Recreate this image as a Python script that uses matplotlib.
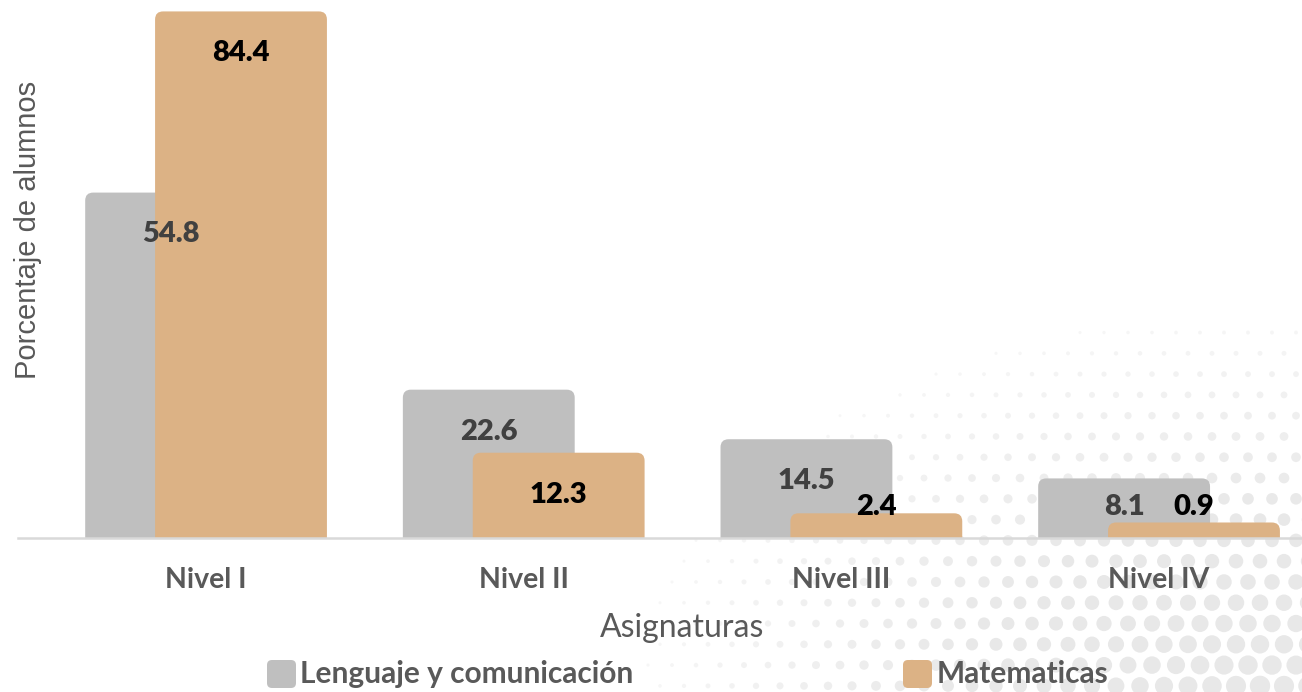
import numpy as np
import matplotlib.pyplot as plt
from matplotlib.patches import FancyBboxPatch

niveles = ['Nivel I', 'Nivel II', 'Nivel III', 'Nivel IV']
lenguaje = [54.8, 22.6, 14.5, 8.1]
matematicas = [84.4, 12.3, 2.4, 0.9]
series_names = ['Lenguaje y comunicación', 'Matematicas']

GRAY = '#bfbfbf'
TAN = '#dcb285'
TXT = '#595959'

W, H = 1302, 692
fig = plt.figure(figsize=(W / 100, H / 100), dpi=100)

# halftone dots in the lower right corner (background decoration)
bg = fig.add_axes([0, 0, 1, 1], zorder=0)
bg.set_xlim(0, W)
bg.set_ylim(H, 0)
bg.axis('off')
step = 24
gx, gy, gs, ga = [], [], [], []
for j, yy in enumerate(np.arange(0, H + step, step * 0.866)):
    off = (step / 2) * (j % 2)
    for xx in np.arange(off, W + step, step):
        d = np.hypot(xx - 1260, (yy - 700) * 1.6)
        t = 1 - d / 620
        if t > 0:
            gx.append(xx)
            gy.append(yy)
            gs.append((3 + 18 * t) ** 2 * 0.52)
            ga.append(min(1.0, 0.35 + 1.2 * t))
cols = [(0.91, 0.91, 0.91, a) for a in ga]
bg.scatter(gx, gy, s=gs, c=cols, linewidths=0)

# main axes
left, right, top, bottom = 18, 1302, 0, 538
ax = fig.add_axes([left / W, 1 - bottom / H, (right - left) / W, (bottom - top) / H], zorder=1)
ax.patch.set_alpha(0)
xmin, xmax = -0.592, 3.45
ymax = 87.9
ax.set_xlim(xmin, xmax)
ax.set_ylim(0, ymax)

px_x = (right - left) / (xmax - xmin)
px_y = (bottom - top) / ymax
pad = 10 / px_x
aspect = px_x / px_y

x = np.arange(len(niveles))
bw = 0.478
b1 = ax.bar(x - 0.11, lenguaje, bw, color=GRAY)
b2 = ax.bar(x + 0.11, matematicas, bw, color=TAN)

for cont, col, z in [(b1, GRAY, 2), (b2, TAN, 3)]:
    for r in cont:
        r.set_visible(False)
        p = FancyBboxPatch((r.get_x(), r.get_y()), r.get_width(), r.get_height(),
                           boxstyle='round,pad=%f,rounding_size=%f' % (pad, 8 / px_x),
                           mutation_aspect=aspect, facecolor=col, edgecolor='none', zorder=z)
        ax.add_patch(p)

for xi, v in zip(x - 0.11, lenguaje):
    ax.text(xi, max(v - 5.2, 5.0), '%.1f' % v, ha='center', va='center',
            fontsize=21, fontweight='heavy', family='Lato', color='#404040', zorder=5)
for xi, v in zip(x + 0.11, matematicas):
    ax.text(xi, max(v - 5.2, 5.0), '%.1f' % v, ha='center', va='center',
            fontsize=21, fontweight='heavy', family='Lato', color='black', zorder=5)

for s in ['top', 'right', 'left']:
    ax.spines[s].set_visible(False)
ax.spines['bottom'].set_color('#d9d9d9')
ax.spines['bottom'].set_linewidth(1.8)
ax.spines['bottom'].set_zorder(6)
ax.set_yticks([])
ax.set_xticks(x)
ax.set_xticklabels(niveles, fontsize=20.5, fontweight='bold', family='Lato', color=TXT)
ax.tick_params(axis='x', length=0, pad=21)

fig.text(28 / W, 1 - 230 / H, 'Porcentaje de alumnos', rotation=90, ha='center', va='center',
         fontsize=21, family='Liberation Sans', color=TXT)
fig.text(682 / W, 1 - 628 / H, 'Asignaturas', ha='center', va='center',
         fontsize=23, family='Lato', color=TXT)

# legend
for (sx, tx), name, col in zip([(267, 300), (903, 937)], series_names, [GRAY, TAN]):
    sq = FancyBboxPatch((sx / W, 1 - 688 / H), 29 / W, 28 / H,
                        boxstyle='round,pad=0,rounding_size=%f' % (5 / W),
                        mutation_aspect=W / H, transform=fig.transFigure,
                        facecolor=col, edgecolor='none', zorder=3)
    fig.add_artist(sq)
    fig.text(tx / W, 1 - 674 / H, name, ha='left', va='center', fontsize=21.5,
             fontweight='bold', family='Lato', color=TXT)

fig.savefig('out.png', dpi=100)
